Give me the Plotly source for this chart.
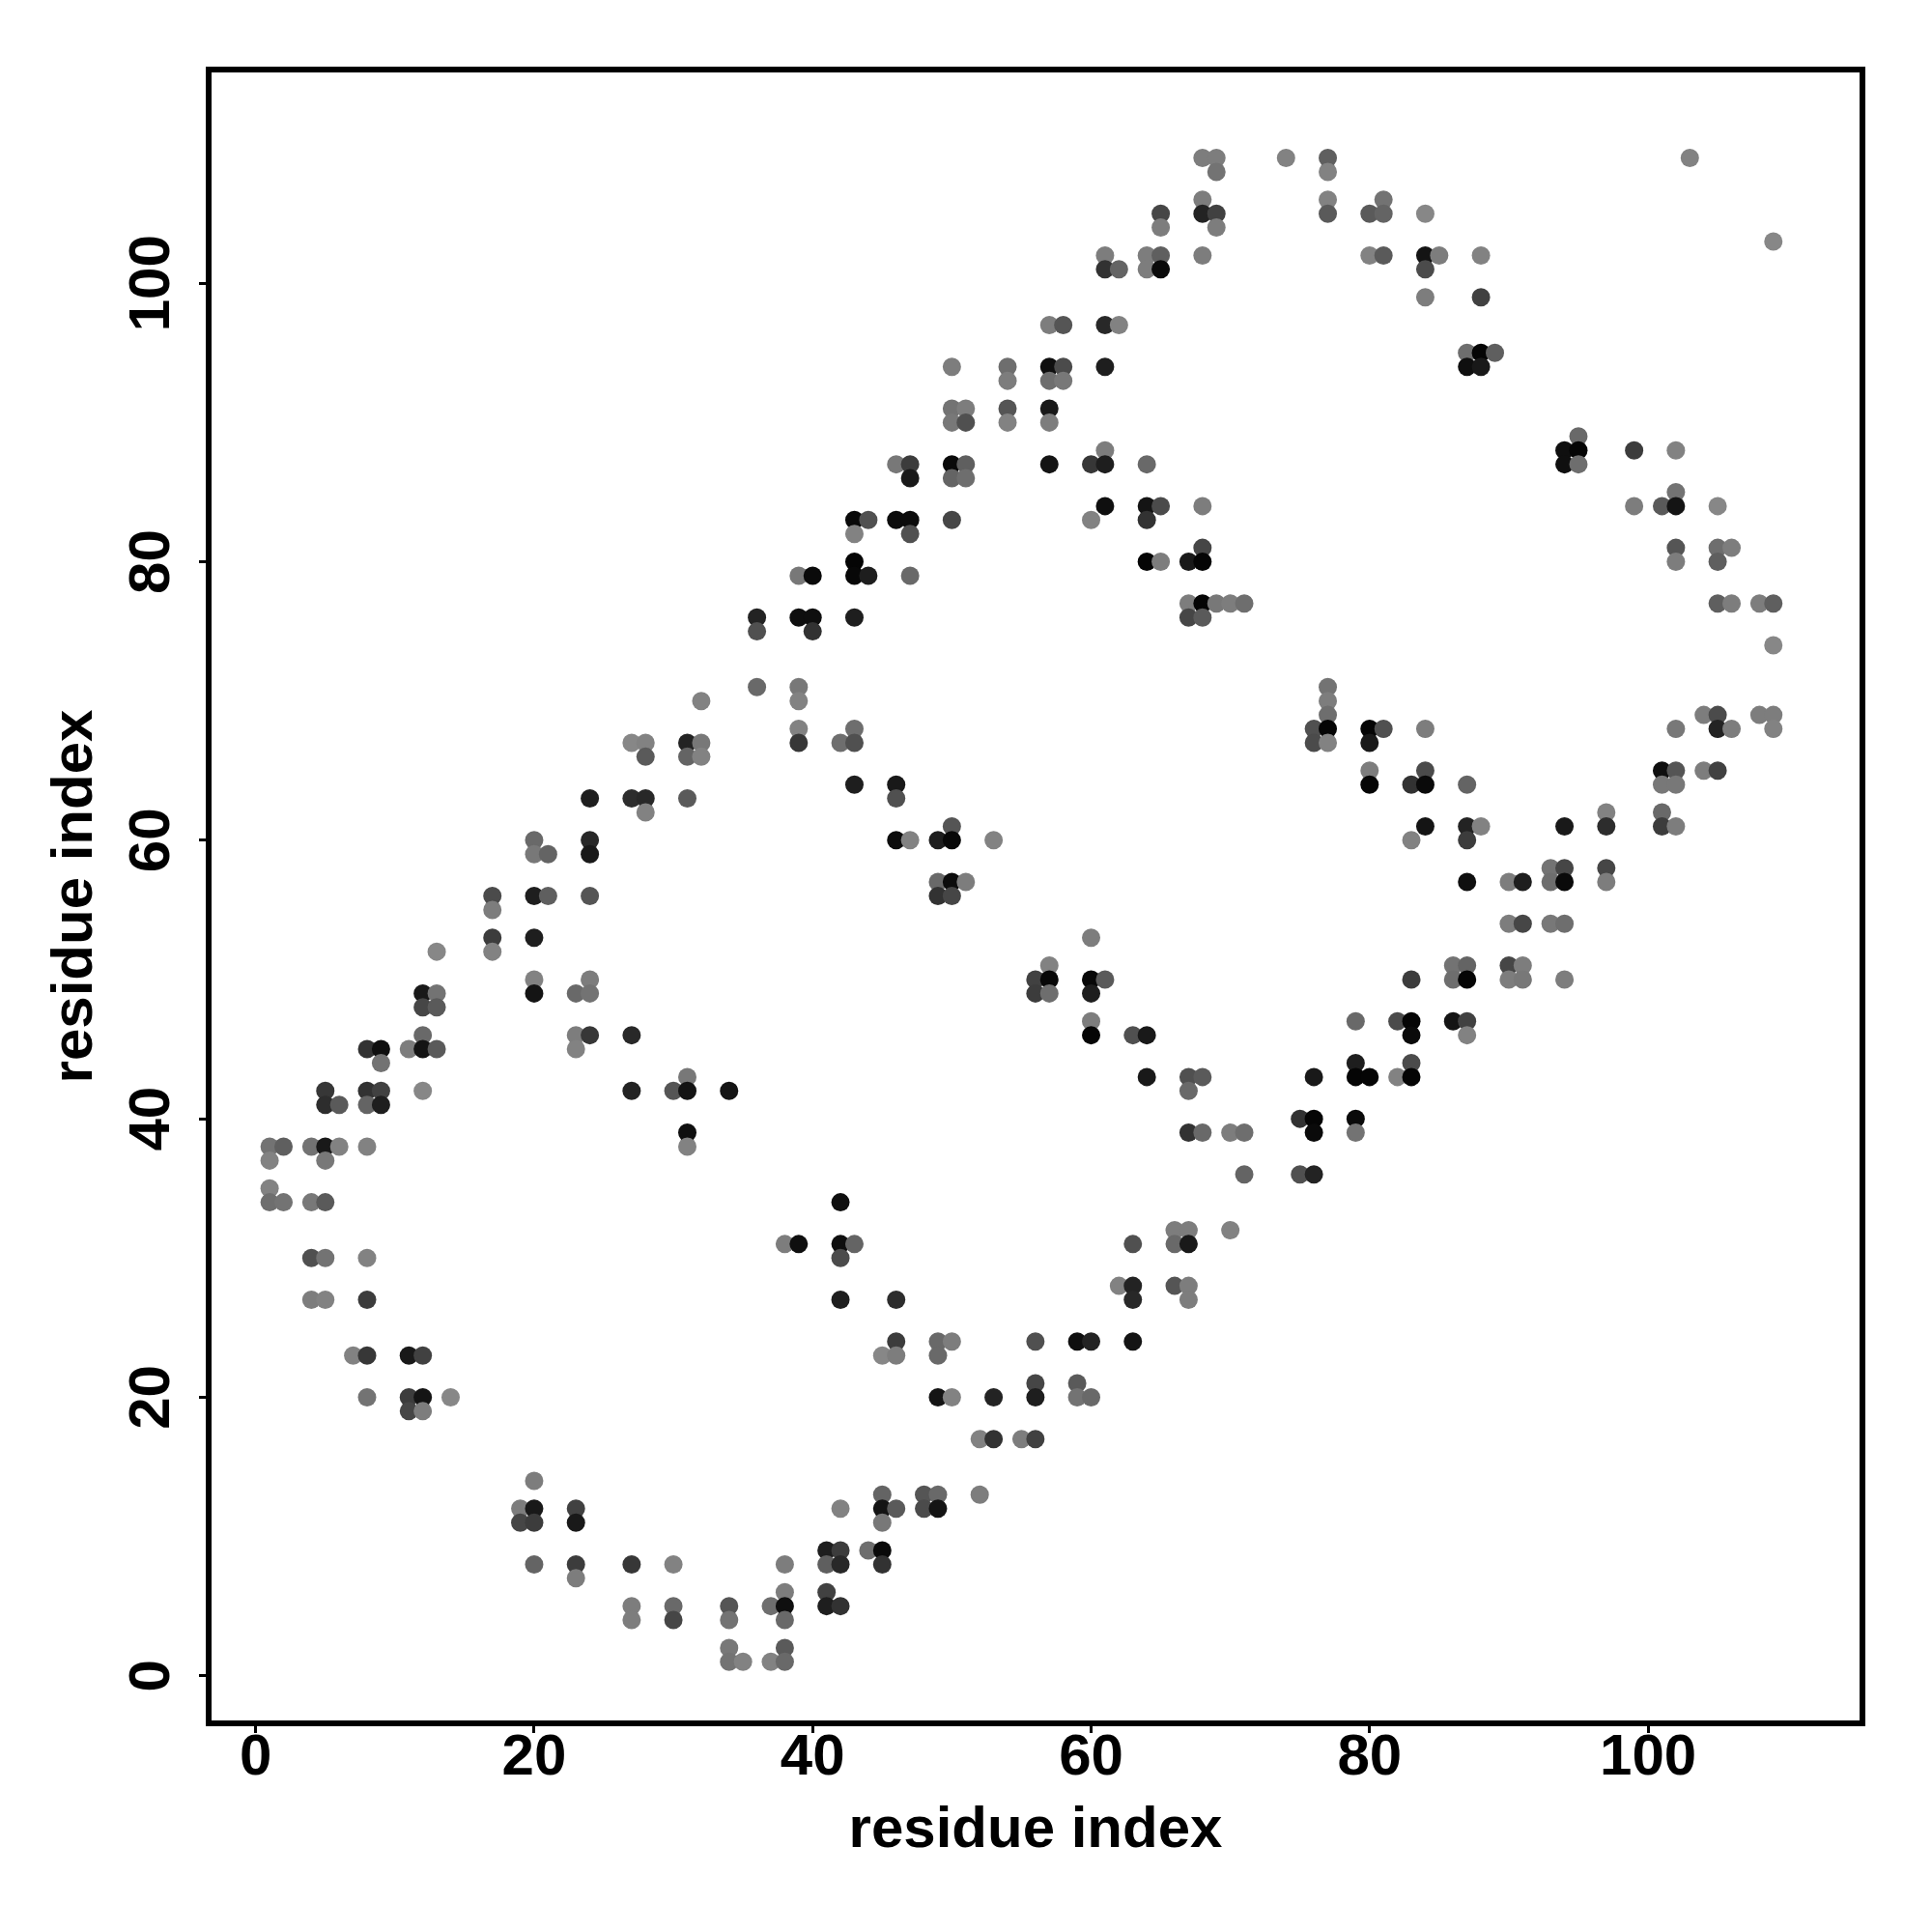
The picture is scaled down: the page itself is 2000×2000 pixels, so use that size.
import plotly.graph_objects as go

row_y = [109,108,106,105,104,103,102,101,99,97,95,94,93,91,90,89,88,87,86,85,84,83,82,81,80,79,77,76,75,74,
         71,70,69,68,67,66,65,64,63,62,61,60,59,58,57,56,55,54,53,52,51,50,49,48,47,46,45,44,43,42,41,40,39,38,37,36,35,34,
         32,31,30,28,27,24,23,21,20,19,17,14,13,12,11,9,8,7,6,5,4,2,1]
row_x = [
 [68,69,74,77,103],[69,77],[68,77,81],[65,68,69,77,80,81,84],[65,69],[109],
 [61,64,65,68,80,81,84,85,88],[61,62,64,65,84],[84,88],[57,58,61,62],[87,88,89],
 [50,54,57,58,61,87,88],[54,57,58],[50,51,54,57],[50,51,54,57],[95],[61,94,95,99,102],
 [46,47,50,51,57,60,61,64,94,95],[47,50,51],[102],[61,64,65,68,99,101,102,105],
 [43,44,46,47,50,60,64],[43,47],[68,102,105,106],[43,64,65,67,68,102,105],[39,40,43,44,47],
 [67,68,69,70,71,105,106,108,109],[36,39,40,43,67,68],[36,40],[109],
 [36,39,77],[32,39,77],[77,104,105,108,109],[39,43,76,77,80,81,84,102,105,106,109],
 [27,28,31,32,39,42,43,76,77,80],[28,31,32],[80,84,101,102,104,105],[43,46,80,83,84,87,101,102],
 [24,27,28,31,46],[28,97,101],[50,84,87,88,94,97,101,102],[20,24,46,47,49,50,53,83,87],[20,21,24],
 [93,94,97],[49,50,51,87,90,91,93,94,97],[17,20,21,24,49,50],[17],[90,91,93,94],[17,20,60],[13,17],
 [57,86,87,90,91],[20,24,56,57,60,61,83,86,87,90,91,94],[12,13,20,23,24,56,57,60],[12,13],
 [60,79,82,83,86,87],[12,23,24,27,60,63,64,83,87],[8,9,11,12,13,23],[9,79,83],
 [31,64,67,68,76,79,80,82,83],[5,8,9,12,27,30,31,34,67],[5,6,8,9],[75,76,79],[31,67,68,70,71,76,79],
 [1,2,4,5,6,8,31],[1,5],[71,75,76],[1],[1,2,4,5,42],
 [66,67,70],[38,39,42,43,63,66,67],[4,5,8,42],[62,63,66,67],[4,5,8,42,46,63,67],[46,49,50,56,59,60,63],
 [7,8,11,12,45,46,49],[56,59],[8,11,12,14,49,50,53,56,59,60],[11,12],[52,53,55,56],[20],[45,48,49,52],
 [19,20,23,42,45,46,48,49],[19,20,23,45],[41,42,44,45],[20,23,27,30,38,41,42,45],[23],[38,41],
 [27,30,34,37,38,41,42],[27,30,34,38],[34,38],[34,35,37,38],
]
row_grey = [
 [125,125,130,95,130],[115,130],[125,130,115],[70,35,65,90,90,100,135],[125,125],[135],
 [125,125,95,125,130,90,20,125,130],[50,100,125,10,75],[125,65],[125,85,40,130],[110,5,95],
 [125,110,15,75,30,15,25],[125,110,120],[115,125,85,25],[120,80,130,125],[105],[125,15,5,60,130],
 [120,60,10,95,20,55,30,105,15,110],[25,100,110],[115],[15,20,75,125,125,90,20,135],
 [10,80,12,12,70,130,50],[130,80],[70,85,110,125],[5,5,125,25,5,125,95],[120,10,8,30,105],
 [125,5,120,125,110,95,125,125,95],[35,15,15,30,70,90],[80,50],[135],
 [105,120,115],[130,130,125],[110,125,75,125,125],[130,110,80,5,5,80,125,120,35,125,130],
 [135,130,35,120,55,110,80,75,130,25],[90,100,130],[125,75,15,85,125,65],[30,25,5,50,10,100,120,120],
 [30,45,40,90,80],[130,130,105],[85,20,35,130,25,45,60,125],[105,40,12,130,30,8,130,130,60],[120,100,25],
 [115,70,70],[105,12,125,15,125,30,110,10,125],[75,30,95,85,50,70],[125],[125,70,120,110],[60,30,125],[135,130],
 [130,115,100,70,125],[130,125,65,8,8,90,60,110,5,125,120,125],[25,115,20,105,115,60,110,30],[70,90],
 [125,105,75,5,20,65],[105,125,55,40,5,80,25,10,130],[50,15,125,20,90,130],[115,30,75],
 [120,25,80,90,25,5,5,130,5],[55,50,65,135,35,85,20,20,105],[45,90,100,30],[50,5,10],[15,50,105,125,110,10,115],
 [115,95,115,25,130,130,130],[130,120],[100,80,35],[130],[110,115,120,90,15],
 [125,125,130],[125,15,15,100,80,105,25],[80,115,130,75],[130,35,85,125],[125,130,60,30,45,40,125],[60,105,125,80,15,35,20],
 [130,55,25,65,135,125,105],[70,90],[115,60,20,135,20,130,35,30,115,105],[70,125],[130,50,125,65],[125],[100,85,105,125],
 [125,25,65,130,20,90,75,20],[70,60,25,120],[30,60,110,10],[100,60,55,130,125,95,40,50],[125],[125,65],
 [125,105,85,110,15,30,50],[125,70,115,105],[120,90],[115,130,130,105],
]
tick_vals = [0, 20, 40, 60, 80, 100]
axis_label = "residue index"

xs, ys, colors = [], [], []
for y, rx, rg in zip(row_y, row_x, row_grey, strict=True):
    for x, g in zip(rx, rg, strict=True):
        xs.append(x)
        ys.append(y)
        colors.append(f"rgb({g},{g},{g})")

fig = go.Figure(go.Scatter(
    x=xs, y=ys, mode="markers",
    marker=dict(size=19, color=colors, line=dict(width=0)),
    cliponaxis=False, hoverinfo="skip",
))
font = dict(family="Liberation Sans", size=60, color="black", weight="bold")
axis = dict(
    showgrid=False, zeroline=False, showline=True, mirror=True, linecolor="black", linewidth=6,
    ticks="outside", ticklen=7, tickwidth=3, tickcolor="black", tickmode="array",
    tickvals=tick_vals, tickfont=font, title=dict(text=axis_label, font=font),
)
fig.update_layout(
    width=2000, height=2000, autosize=False, showlegend=False,
    paper_bgcolor="white", plot_bgcolor="white",
    margin=dict(l=219, r=75, t=75, b=219, pad=0),
    xaxis=dict(axis, range=[-3.17, 115.19], ticklabelstandoff=-29),
    yaxis=dict(axis, range=[-3.21, 115.14], tickangle=-90, ticklabelstandoff=7, ticklabelshift=9),
)
fig.update_xaxes(title_standoff=23)
fig.update_yaxes(title_standoff=8)
fig.write_html("out.html", post_script="document.body.style.margin='0';",
               config={"displayModeBar": False})
